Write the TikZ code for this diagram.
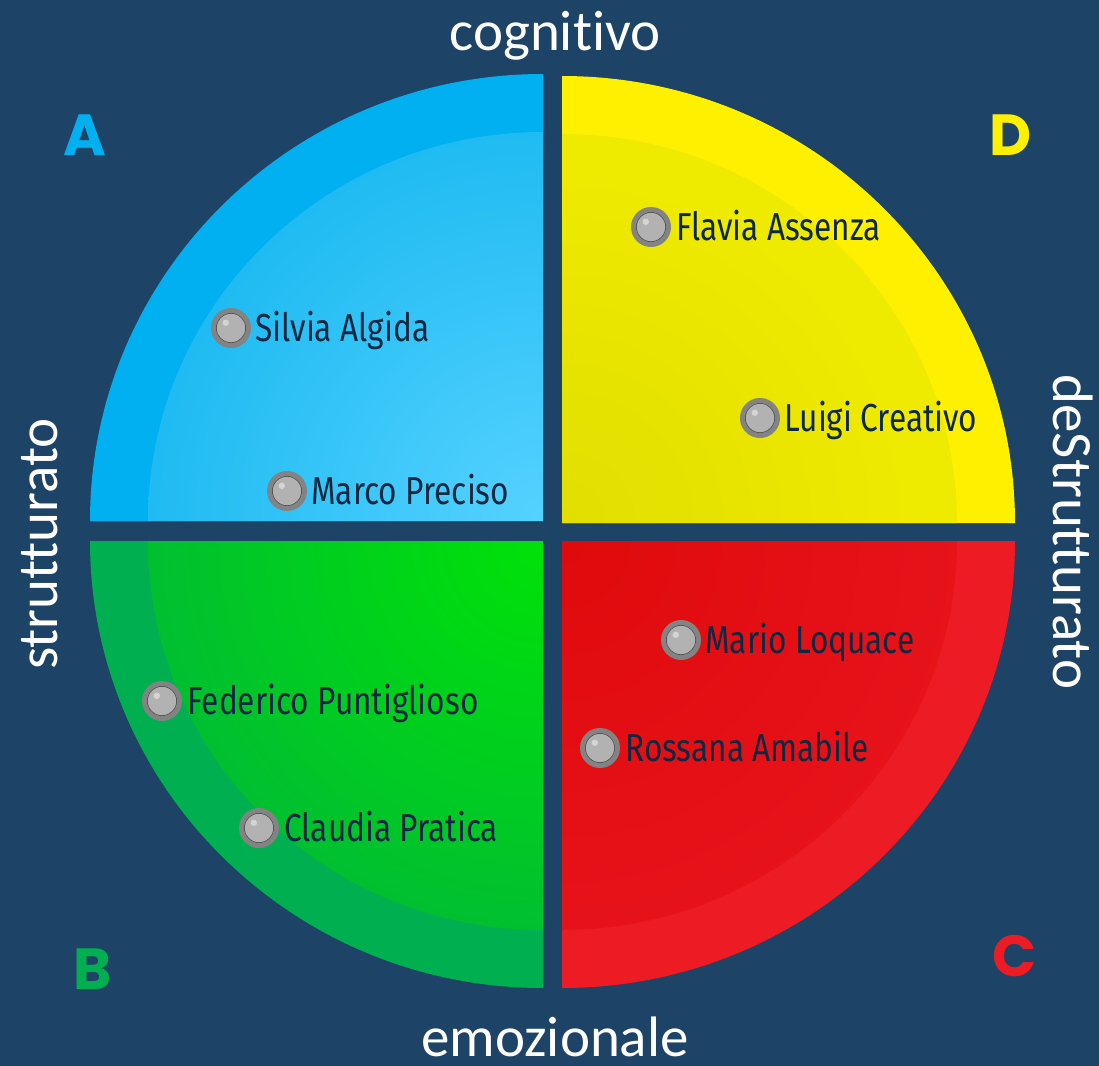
\documentclass[tikz,border=0pt]{standalone}
\usepackage{fontspec}
\newfontfamily\axisfont{Carlito}[Ligatures=NoCommon]
\newfontfamily\namefont{Fira Sans}[FakeStretch=0.81]
\newfontfamily\letterfont{Poppins}
\definecolor{bg}{HTML}{1D4466}
\definecolor{aout}{HTML}{00B0F0}
\definecolor{ainA}{HTML}{55D2FF}
\definecolor{ainB}{HTML}{1DBAF1}
\definecolor{dout}{HTML}{FFF000}
\definecolor{dinA}{HTML}{E2DE00}
\definecolor{dinB}{HTML}{F0EC00}
\definecolor{bout}{HTML}{00B050}
\definecolor{binA}{HTML}{00E208}
\definecolor{binB}{HTML}{00BE32}
\definecolor{cout}{HTML}{ED1C24}
\definecolor{cinA}{HTML}{E00A0C}
\definecolor{cinB}{HTML}{E7131A}
\definecolor{namecol}{HTML}{0E2841}
\definecolor{mring}{HTML}{838383}
\definecolor{mfill}{HTML}{B2B2B2}
\definecolor{mline}{HTML}{4A4A4A}
\begin{document}
\begin{tikzpicture}[x=0.5pt,y=-0.5pt,
  axislabel/.style={font=\axisfont\fontsize{28.5}{30}\selectfont, text=white, inner sep=0},
  quadletter/.style={font=\letterfont\bfseries\fontsize{29}{30}\selectfont, inner sep=0, anchor=base},
  person/.style={font=\namefont\fontsize{19.5}{21}\selectfont, text=namecol, inner sep=0, anchor=base west},
  marker/.style={circle, inner sep=0, minimum size=17.5pt, fill=mfill, draw=mring, line width=2.5pt,
    path picture={
      \draw[mline, line width=0.5pt] (path picture bounding box.center) circle (7.4pt);
      \fill[white, opacity=0.45] ([shift={(-2.6pt,2.6pt)}]path picture bounding box.center) circle (1.6pt);
    }},
]
\fill[bg] (0,0) rectangle (1099,1066);
\useasboundingbox (0,0) rectangle (1099,1066);

% Quadrant A (blue)
\fill[aout] (543,521) -- (90,521) arc[start angle=180,end angle=90,x radius=226.5pt,y radius=223.5pt] -- cycle;
\begin{scope}
\clip (543,521) -- (148,521) arc[start angle=180,end angle=90,x radius=197.5pt,y radius=194.5pt] -- cycle;
\shade[inner color=ainA, outer color=ainB] (543,521) circle (205pt);
\end{scope}
% Quadrant D (yellow)
\fill[dout] (562,523) -- (1015,523) arc[start angle=0,end angle=90,x radius=226.5pt,y radius=223.5pt] -- cycle;
\begin{scope}
\clip (562,523) -- (957,523) arc[start angle=0,end angle=90,x radius=197.5pt,y radius=194.5pt] -- cycle;
\shade[inner color=dinA, outer color=dinB] (562,523) circle (205pt);
\end{scope}
% Quadrant B (green)
\fill[bout] (543,541) -- (90,541) arc[start angle=180,end angle=270,x radius=226.5pt,y radius=223.5pt] -- cycle;
\begin{scope}
\clip (543,541) -- (148,541) arc[start angle=180,end angle=270,x radius=197.5pt,y radius=194.5pt] -- cycle;
\shade[inner color=binA, outer color=binB] (543,541) circle (205pt);
\end{scope}
% Quadrant C (red)
\fill[cout] (562,541) -- (1015,541) arc[start angle=0,end angle=-90,x radius=226.5pt,y radius=223.5pt] -- cycle;
\begin{scope}
\clip (562,541) -- (957,541) arc[start angle=0,end angle=-90,x radius=197.5pt,y radius=194.5pt] -- cycle;
\shade[inner color=cinA, outer color=cinB] (562,541) circle (205pt);
\end{scope}

% axis labels
\node[axislabel, anchor=base] (cog) at (555,50) {cognitivo};
\node[axislabel, anchor=base] (emo) at (555,1056) {emozionale};
\node[axislabel, anchor=base, rotate=90] (str) at (57,544) {strutturato};
\node[axislabel, anchor=base, rotate=-90] (destr) at (1053,532) {deStrutturato};

% quadrant letters
\node[quadletter, text=aout] (la) at (85,155) {A};
\node[quadletter, text=dout] (ld) at (1011,155) {D};
\node[quadletter, text=bout] (lb) at (93,989) {B};
\node[quadletter, text=cout] (lc) at (1015,976) {C};

% people
\node[marker] (m1) at (231,328) {};
\node[person] (p1) at (255,341) {Silvia Algida};
\node[marker] (m2) at (287,491) {};
\node[person] (p2) at (311,504) {Marco Preciso};
\node[marker] (m3) at (651,227) {};
\node[person] (p3) at (676,240) {Flavia Assenza};
\node[marker] (m4) at (760,418) {};
\node[person] (p4) at (784,431) {Luigi Creativo};
\node[marker] (m5) at (681,640) {};
\node[person] (p5) at (705,653) {Mario Loquace};
\node[marker] (m6) at (600,748) {};
\node[person] (p6) at (625,761) {Rossana Amabile};
\node[marker] (m7) at (162,701) {};
\node[person] (p7) at (187,714) {Federico Puntiglioso};
\node[marker] (m8) at (259,828) {};
\node[person] (p8) at (284,841) {Claudia Pratica};
\end{tikzpicture}
\end{document}
